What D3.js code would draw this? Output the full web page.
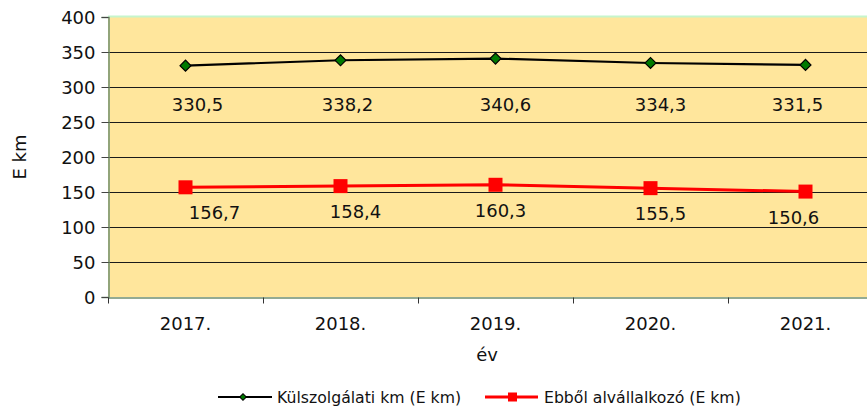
<!DOCTYPE html>
<html>
<head>
<meta charset="utf-8">
<script src="https://cdn.jsdelivr.net/npm/d3@7"></script>
<style>
    body { margin: 0; background: #fff; }
    svg { display: block; font-family: "DejaVu Sans", Verdana, sans-serif; }
</style>
</head>
<body>
<div id="chart"></div>
<script>
'use strict';

const years = ['2017.', '2018.', '2019.', '2020.', '2021.'];
const kulszolgalati = [330.5, 338.2, 340.6, 334.3, 331.5];
const alvallalkozo = [156.7, 158.4, 160.3, 155.5, 150.6];
const yTicks = [0, 50, 100, 150, 200, 250, 300, 350, 400];
const seriesNames = ['Külszolgálati km (E km)', 'Ebből alvállalkozó (E km)'];

const W = 867, H = 410;
// plot area runs past the right edge of the window, like the original
const m = {left: 108, top: 17, bottom: 297, right: 883};

const svg = d3.select('#chart')
    .append('svg')
    .attr('width', W)
    .attr('height', H);

const x = d3.scaleBand()
    .domain(years)
    .range([m.left, m.right]);

const y = d3.scaleLinear()
    .domain([0, 400])
    .range([m.bottom, m.top]);

//#region plot area
svg.append('rect')
    .attr('x', m.left)
    .attr('y', m.top)
    .attr('width', m.right - m.left)
    .attr('height', m.bottom - m.top)
    .attr('fill', '#FFE69C');

svg.append('line')
    .attr('x1', m.left).attr('x2', m.right)
    .attr('y1', m.top - 0.5).attr('y2', m.top - 0.5)
    .attr('stroke', '#C6F5CC')
    .attr('stroke-width', 2);

svg.selectAll('.grid')
    .data(yTicks.filter(d => d > 0 && d < 400))
    .enter()
    .append('line')
    .attr('class', 'grid')
    .attr('x1', m.left).attr('x2', m.right)
    .attr('y1', d => Math.round(y(d)) + 0.5)
    .attr('y2', d => Math.round(y(d)) + 0.5)
    .attr('stroke', '#1a1a1a')
    .attr('stroke-width', 1);
//#endregion

//#region axes
const yAxis = svg.append('g')
    .attr('transform', `translate(${m.left + 0.5},0)`)
    .call(d3.axisLeft(y).tickValues(yTicks).tickSize(7).tickPadding(6).tickFormat(d3.format('d')));

const xAxis = svg.append('g')
    .attr('transform', `translate(0,${m.bottom + 0.5})`)
    .call(d3.axisBottom(x).tickSize(0).tickPadding(20));

// tick marks sit on band boundaries, not on the centres
xAxis.selectAll('.bound')
    .data(years.map(d => x(d)).concat([m.right]))
    .enter()
    .append('line')
    .attr('class', 'bound')
    .attr('x1', d => Math.round(d) + 0.5)
    .attr('x2', d => Math.round(d) + 0.5)
    .attr('y1', 0).attr('y2', 6)
    .attr('stroke', '#333');

[yAxis, xAxis].forEach(g => {
    g.select('.domain').attr('stroke', '#6F8F6F').attr('stroke-width', 1.5);
    g.selectAll('.tick line').attr('stroke', '#444');
    g.selectAll('.tick text')
        .attr('fill', '#111')
        .style('font-size', '18px')
        .style('font-family', '"DejaVu Sans", Verdana, sans-serif');
});
yAxis.selectAll('.tick text').attr('dy', '0.36em');

svg.append('text')
    .attr('transform', 'translate(26,157) rotate(-90)')
    .attr('text-anchor', 'middle')
    .style('font-size', '18px')
    .attr('fill', '#111')
    .text('E km');

svg.append('text')
    .attr('x', 487)
    .attr('y', 361)
    .attr('text-anchor', 'middle')
    .style('font-size', '18px')
    .attr('fill', '#111')
    .text('év');
//#endregion

//#region series
const line = d3.line()
    .x((d, i) => x(years[i]) + x.bandwidth() / 2)
    .y(d => y(d));

svg.append('path')
    .datum(kulszolgalati)
    .attr('d', line)
    .attr('fill', 'none')
    .attr('stroke', '#000')
    .attr('stroke-width', 2.2);

svg.append('path')
    .datum(alvallalkozo)
    .attr('d', line)
    .attr('fill', 'none')
    .attr('stroke', '#FF0000')
    .attr('stroke-width', 3);

const diamond = d3.symbol().type(d3.symbolSquare).size(60);

svg.selectAll('.dia')
    .data(kulszolgalati)
    .enter()
    .append('path')
    .attr('class', 'dia')
    .attr('d', diamond)
    .attr('transform', (d, i) => `translate(${x(years[i]) + x.bandwidth() / 2},${y(d)}) rotate(45)`)
    .attr('fill', '#007A00')
    .attr('stroke', '#000')
    .attr('stroke-width', 1.2);

svg.selectAll('.sq')
    .data(alvallalkozo)
    .enter()
    .append('rect')
    .attr('class', 'sq')
    .attr('x', (d, i) => x(years[i]) + x.bandwidth() / 2 - 7)
    .attr('y', d => y(d) - 7)
    .attr('width', 14)
    .attr('height', 14)
    .attr('fill', '#FF0000');

// data labels, nudged sideways the way the original has them
const blackShift = [12, 7, 10, 10, -8];
const redShift = [29, 15, 5, 10, -12];
const fmt = v => v.toFixed(1).replace('.', ',');

svg.selectAll('.lblK')
    .data(kulszolgalati)
    .enter()
    .append('text')
    .attr('class', 'lblK')
    .attr('x', (d, i) => x(years[i]) + x.bandwidth() / 2 + blackShift[i])
    .attr('y', y(330) + 45)
    .attr('text-anchor', 'middle')
    .style('font-size', '18px')
    .attr('fill', '#111')
    .text(fmt);

svg.selectAll('.lblA')
    .data(alvallalkozo)
    .enter()
    .append('text')
    .attr('class', 'lblA')
    .attr('x', (d, i) => x(years[i]) + x.bandwidth() / 2 + redShift[i])
    .attr('y', d => y(d) + 32)
    .attr('text-anchor', 'middle')
    .style('font-size', '18px')
    .attr('fill', '#111')
    .text(fmt);
//#endregion

//#region legend
const legend = svg.append('g').attr('transform', 'translate(0,397)');

const lgK = legend.append('g').attr('transform', 'translate(218,0)');
lgK.append('line').attr('x1', 0).attr('x2', 54).attr('stroke', '#000').attr('stroke-width', 2.2);
lgK.append('path')
    .attr('d', d3.symbol().type(d3.symbolSquare).size(22))
    .attr('transform', 'translate(25,0) rotate(45)')
    .attr('fill', '#007A00')
    .attr('stroke', '#000');
lgK.append('text')
    .attr('x', 59).attr('dy', '0.36em')
    .style('font-size', '15.7px')
    .attr('fill', '#111')
    .text(seriesNames[0]);

const lgA = legend.append('g').attr('transform', 'translate(485,0)');
lgA.append('line').attr('x1', 0).attr('x2', 53).attr('stroke', '#FF0000').attr('stroke-width', 3);
lgA.append('rect')
    .attr('x', 23).attr('y', -4.5)
    .attr('width', 9).attr('height', 9)
    .attr('fill', '#FF0000');
lgA.append('text')
    .attr('x', 59).attr('dy', '0.36em')
    .style('font-size', '15.7px')
    .attr('fill', '#111')
    .text(seriesNames[1]);
//#endregion
</script>
</body>
</html>
